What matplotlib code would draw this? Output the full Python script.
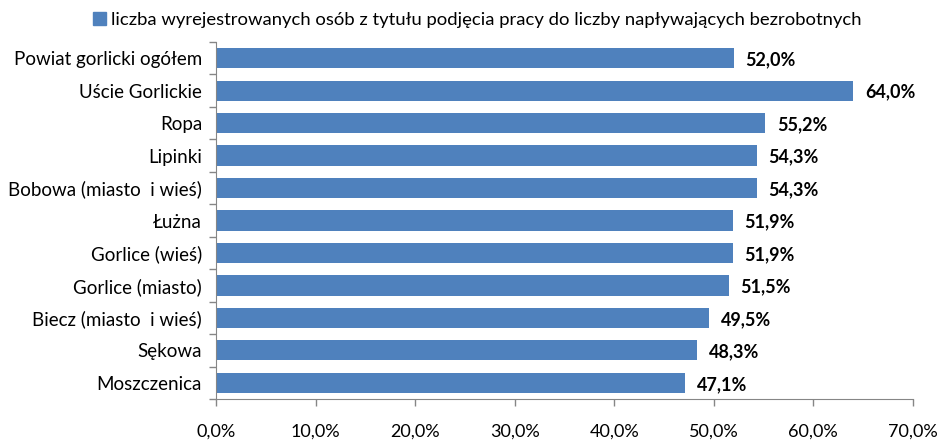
import matplotlib
matplotlib.use("Agg")
import matplotlib.pyplot as plt
from matplotlib.patches import Patch

categories = ["Powiat gorlicki ogółem", "Uście Gorlickie", "Ropa", "Lipinki",
              "Bobowa (miasto  i wieś)", "Łużna", "Gorlice (wieś)", "Gorlice (miasto)",
              "Biecz (miasto  i wieś)", "Sękowa", "Moszczenica"]
values = [52.0, 64.0, 55.2, 54.3, 54.3, 51.9, 51.9, 51.5, 49.5, 48.3, 47.1]
series_name = "liczba wyrejestrowanych osób z tytułu podjęcia pracy do liczby napływających bezrobotnych"
x_ticks = [0, 10, 20, 30, 40, 50, 60, 70]

plt.rcParams["font.family"] = ["Lato", "DejaVu Sans"]

bar_color = "#4F81BD"
axis_color = "#868686"

fig = plt.figure(figsize=(9.43, 4.41), dpi=100)
ax = fig.add_axes([0.229, 0.095, 0.739, 0.81])

n = len(categories)
ypos = list(range(n))[::-1]
ax.barh(ypos, values, height=0.62, color=bar_color, zorder=2)

for y, v in zip(ypos, values):
    ax.text(v + 1.2, y - 0.05, f"{v:.1f}%".replace(".", ","), va="center", ha="left",
            fontsize=13, fontweight="bold", color="black")

ax.set_xlim(0, 70)
ax.set_ylim(-0.5, n - 0.5)

ax.set_xticks(x_ticks)
ax.set_xticklabels([f"{t:.1f}%".replace(".", ",") for t in x_ticks], fontsize=13)
ax.set_yticks(ypos)
ax.set_yticklabels(categories, fontsize=13.5)
# ticks on category boundaries
ax.set_yticks([i - 0.5 for i in range(n + 1)], minor=True)
ax.tick_params(axis="y", which="major", length=0, pad=10)
ax.tick_params(axis="y", which="minor", length=5, color=axis_color, width=1)
ax.tick_params(axis="x", length=5, color=axis_color, width=1, pad=13)

for side in ["top", "right"]:
    ax.spines[side].set_visible(False)
for side in ["left", "bottom"]:
    ax.spines[side].set_color(axis_color)

fig.legend(handles=[Patch(color=bar_color, label=series_name)], loc="center",
           bbox_to_anchor=(0.506, 0.955), frameon=False, fontsize=13.3,
           handlelength=0.7, handleheight=0.7, handletextpad=0.3)

fig.savefig("out.png", dpi=100)
